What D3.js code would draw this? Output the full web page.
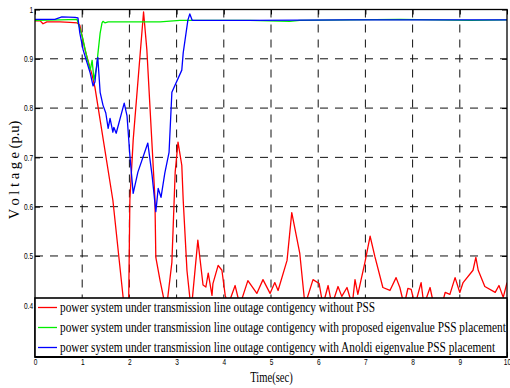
<!DOCTYPE html>
<html><head><meta charset="utf-8">
<script src="https://cdn.jsdelivr.net/npm/d3@7"></script>
<style>body{margin:0;background:#fff}</style>
</head><body>
<svg id="c" width="510" height="388"></svg>
<script>
const xTicks = [0,1,2,3,4,5,6,7,8,9,10];
const yTicks = [0.4,0.5,0.6,0.7,0.8,0.9,1];
const legendLabels = [
  "power system under transmission line outage contigency without PSS",
  "power system under transmission line outage contigency with proposed eigenvalue PSS placement",
  "power system under transmission line outage contigency with Anoldi eigenvalue PSS placement"
];
const seriesColors = ["#ff0000","#00ee00","#0000ff"];
const xLabel = "Time(sec)";
const yLabel = "V o l t a g e (p.u)";

// [time (s), voltage (p.u)]
const redSeries = [
 [0,0.977],[0.11,0.977],[0.17,0.971],[0.25,0.975],[0.53,0.975],[0.74,0.974],[0.89,0.973],[0.95,0.968],
 [1.06,0.918],[1.21,0.867],[1.27,0.842],[1.65,0.613],[1.93,0.359],[1.98,0.369],[2.01,0.613],[2.08,0.735],
 [2.30,0.995],[2.37,0.918],[2.54,0.619],[2.56,0.497],[2.65,0.450],[2.78,0.389],[2.90,0.487],[2.97,0.670],
 [3.03,0.731],[3.11,0.684],[3.14,0.613],[3.22,0.470],[3.31,0.389],[3.45,0.532],[3.56,0.441],[3.62,0.437],
 [3.67,0.465],[3.75,0.420],[3.77,0.444],[3.88,0.481],[3.96,0.471],[4.03,0.420],[4.09,0.400],[4.24,0.440],
 [4.34,0.400],[4.51,0.450],[4.70,0.424],[4.83,0.452],[4.98,0.424],[5.08,0.446],[5.15,0.430],[5.34,0.491],
 [5.44,0.588],[5.61,0.505],[5.72,0.400],[5.89,0.452],[6.02,0.444],[6.10,0.400],[6.21,0.440],[6.29,0.400],
 [6.42,0.438],[6.50,0.418],[6.61,0.436],[6.72,0.400],[6.78,0.452],[6.84,0.422],[6.99,0.487],[7.10,0.540],
 [7.20,0.499],[7.37,0.436],[7.52,0.430],[7.65,0.456],[7.73,0.436],[7.82,0.400],[7.90,0.434],[7.97,0.432],
 [8.05,0.400],[8.18,0.446],[8.24,0.400],[8.37,0.436],[8.45,0.400],[8.62,0.400],[8.69,0.426],[8.79,0.422],
 [8.90,0.456],[9.00,0.426],[9.07,0.446],[9.28,0.471],[9.34,0.497],[9.39,0.471],[9.53,0.438],[9.75,0.426],
 [9.83,0.440],[9.92,0.416],[10.0,0.446]
];
const greenSeries = [
 [0,0.978],[0.53,0.979],[0.89,0.980],[1.00,0.946],[1.10,0.903],[1.17,0.877],[1.21,0.897],[1.25,0.857],
 [1.31,0.885],[1.33,0.908],[1.38,0.952],[1.42,0.973],[1.44,0.976],[1.48,0.973],[1.55,0.975],[2.65,0.975],
 [3.07,0.978],[4.55,0.978],[5.40,0.976],[5.61,0.978],[7.73,0.980],[9.22,0.978],[10,0.979]
];
const blueSeries = [
 [0,0.980],[0.42,0.980],[0.57,0.985],[0.85,0.984],[0.91,0.983],[0.95,0.952],[1.02,0.918],[1.10,0.893],
 [1.17,0.871],[1.23,0.845],[1.27,0.853],[1.31,0.891],[1.33,0.903],[1.38,0.832],[1.44,0.806],[1.50,0.790],
 [1.55,0.759],[1.59,0.779],[1.65,0.751],[1.67,0.761],[1.72,0.749],[1.89,0.810],[1.95,0.784],[2.01,0.704],
 [2.08,0.627],[2.18,0.670],[2.39,0.729],[2.48,0.664],[2.56,0.590],[2.61,0.637],[2.67,0.619],[2.75,0.668],
 [2.84,0.710],[2.90,0.832],[3.11,0.877],[3.14,0.912],[3.24,0.979],[3.28,0.991],[3.33,0.978],[4.55,0.978],
 [6.67,0.979],[10,0.979]
];
const allSeries = [redSeries, greenSeries, blueSeries];

const L=35, R=507, T=9.5, B=357;
const SX=0.73;
const serif='"Liberation Serif","Times New Roman",serif';
const sans='"Liberation Sans",Arial,sans-serif';
const x=d3.scaleLinear().domain([0,10]).range([L,R]);
const y=d3.scaleLinear().domain([0.295,1]).range([B,T]);
const svg=d3.select('#c');
svg.append('rect').attr('width',510).attr('height',388).attr('fill','#fff');

// grid
const grid=svg.append('g').attr('stroke','#111').attr('stroke-width',1).attr('stroke-dasharray','8,7');
grid.selectAll('line.v').data(xTicks.filter(d=>d>0&&d<10)).join('line').attr('class','v')
  .attr('x1',d=>x(d)).attr('x2',d=>x(d)).attr('y1',T).attr('y2',B);
grid.selectAll('line.h').data(yTicks.filter(d=>d<1)).join('line').attr('class','h')
  .attr('x1',L).attr('x2',R).attr('y1',d=>y(d)).attr('y2',d=>y(d));

// lines
svg.append('clipPath').attr('id','clip').append('rect').attr('x',L).attr('y',T).attr('width',R-L).attr('height',B-T);
const line=d3.line().x(d=>x(d[0])).y(d=>y(d[1]));
svg.append('g').attr('clip-path','url(#clip)').selectAll('path').data(allSeries).join('path')
  .attr('d',line).attr('fill','none').attr('stroke',(d,i)=>seriesColors[i]).attr('stroke-width',1.3)
  .attr('stroke-linejoin','round');

// axes
const ax=svg.append('g').attr('transform',`translate(0,${B})`)
  .call(d3.axisBottom(x).tickValues(xTicks).tickSize(-5).tickSizeOuter(0).tickPadding(1.8).tickFormat(d3.format('d')));
const ay=svg.append('g').attr('transform',`translate(${L},0)`)
  .call(d3.axisLeft(y).tickValues(yTicks).tickSize(-5).tickSizeOuter(0).tickPadding(2.7).tickFormat(d=>d===1?'1':d.toFixed(1)));
svg.append('g').attr('transform',`translate(0,${T})`)
  .call(d3.axisTop(x).tickValues(xTicks).tickSize(-5).tickSizeOuter(0).tickFormat(''));
svg.append('g').attr('transform',`translate(${R},0)`)
  .call(d3.axisRight(y).tickValues(yTicks).tickSize(-5).tickSizeOuter(0).tickFormat(''));
svg.selectAll('.tick line').attr('stroke','#000');
svg.selectAll('.domain').remove();
[ax,ay].forEach(a=>a.selectAll('.tick text').attr('font-family',sans).attr('font-size',9).attr('fill','#000')
  .attr('transform',`scale(${SX},1)`));

// frame
svg.append('rect').attr('x',L).attr('y',T).attr('width',R-L).attr('height',B-T)
  .attr('fill','none').attr('stroke','#000').attr('stroke-width',1.3);

// legend
const lg=svg.append('g');
lg.append('rect').attr('x',L).attr('y',298).attr('width',R-L).attr('height',B-298)
  .attr('fill','#fff').attr('stroke','#000').attr('stroke-width',1.6);
const rows=lg.selectAll('g.row').data(legendLabels).join('g').attr('class','row')
  .attr('transform',(d,i)=>`translate(0,${307.5+i*20})`);
rows.append('line').attr('x1',38).attr('x2',57).attr('y1',0).attr('y2',0)
  .attr('stroke',(d,i)=>seriesColors[i]).attr('stroke-width',1.3);
rows.append('text').attr('transform',`translate(60,4.5) scale(${SX},1)`)
  .attr('font-family',serif).attr('font-size',15.5).attr('fill','#000').text(d=>d);
svg.append('line').attr('x1',L).attr('x2',R).attr('y1',B).attr('y2',B).attr('stroke','#000').attr('stroke-width',2);

// axis labels
svg.append('text').attr('transform',`translate(271.5,382) scale(${SX},1)`).attr('text-anchor','middle')
  .attr('font-family',serif).attr('font-size',14.5).attr('fill','#000').text(xLabel);
svg.append('text').attr('transform',`translate(19,170) scale(0.95,1) rotate(-90)`).attr('text-anchor','middle')
  .attr('font-family',serif).attr('font-size',14.5).attr('fill','#000').text(yLabel);
</script>
</body></html>
